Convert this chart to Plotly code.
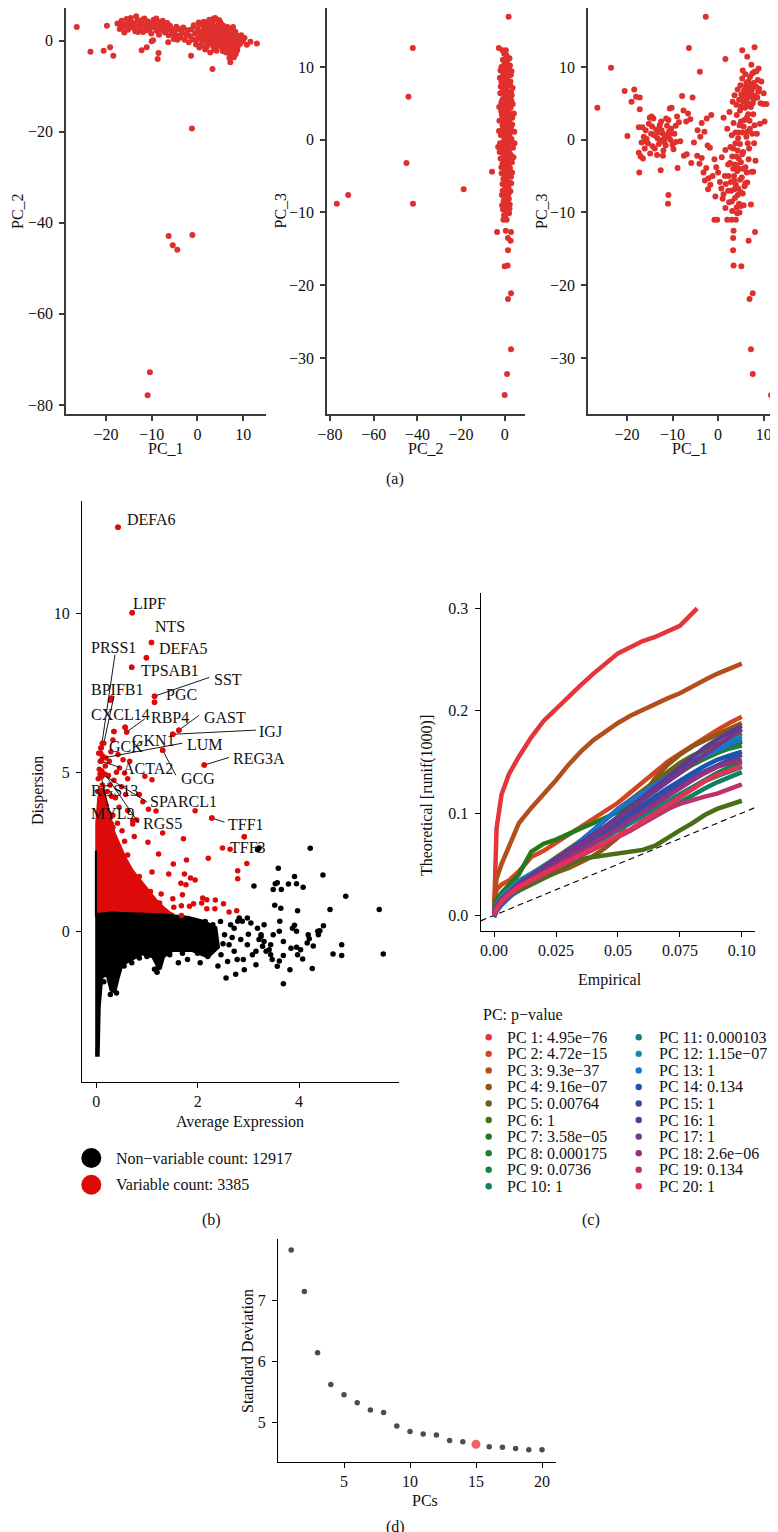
import plotly.graph_objects as go

# ======================= DATA =======================
# (a) PCA embeddings
a1_points = [  # (PC_1, PC_2)
    (-26.4, 3.0), (-23.4, -2.4), (-20.5, -2.2), (-19.1, -1.4), (-18.4, -3.3), (-19.8, 3.3),
    (-12.2, -2.1), (-8.7, -4.0), (-8.5, -2.7), (-11.1, -1.4), (-1.4, -3.3), (3.3, -6.2), (2.8, -2.6),
    (7.2, -4.7), (11.6, -0.2), (13.0, -0.6), (8.7, -2.1), (-10.0, -0.1), (-9.7, 0.1), (-6.4, -0.3),
    (-1.2, -19.3), (-6.3, -42.9), (-5.4, -44.9), (-4.4, -45.9), (-1.1, -42.7), (-10.4, -72.8), (-10.9, -77.9),
    (-17.5, 3.8), (-17.0, 2.6), (-16.6, 4.4), (-16.3, 3.0), (-16.0, 1.8), (-15.8, 3.6), (-15.5, 4.8),
    (-15.2, 2.4), (-14.9, 3.3), (-14.6, 5.0), (-14.4, 4.1), (-14.1, 2.9), (-13.8, 3.7), (-13.6, 2.1),
    (-13.4, 5.4), (-13.1, 4.5), (-12.9, 3.2), (-12.6, 2.6), (-12.4, 4.0), (-12.1, 3.5), (-11.9, 1.9),
    (-11.6, 4.9), (-11.4, 3.0), (-11.1, 2.3), (-10.9, 4.3), (-10.6, 3.6), (-10.4, 2.7), (-10.1, 1.6),
    (-9.9, 3.9), (-9.6, 4.6), (-9.4, 2.9), (-9.1, 3.4), (-8.9, 2.2), (-8.6, 4.2), (-8.4, 1.3),
    (-8.1, 3.1), (-7.9, 2.4), (-7.6, 4.4), (-7.4, 3.6), (-7.1, 1.8), (-6.9, 2.9), (-6.6, 3.9),
    (-6.3, 1.2), (-6.1, 2.5), (-5.8, 2.8), (-5.5, 1.5), (-5.2, 0.4), (-4.9, 2.2), (-4.6, 3.1),
    (-4.3, 1.1), (-4.0, 2.6), (-3.7, 0.7), (-3.4, 1.8), (-3.1, 2.9), (-2.8, 0.2), (-2.5, 1.4),
    (-2.2, 2.3), (-1.9, -0.3), (-1.6, 1.0), (-1.3, 2.5), (-1.0, 0.3), (-0.8, 3.4),
    (-0.5, 1.6), (-0.3, -0.8), (0.0, 2.7), (0.2, 0.6), (0.4, -1.5), (0.6, 3.6), (0.8, 1.2),
    (1.0, -0.4), (1.2, 2.2), (1.4, 4.2), (1.5, 0.1), (1.7, -1.9), (1.9, 1.7), (2.1, 3.1),
    (2.3, -0.9), (2.4, 0.9), (2.6, 4.6), (2.8, 2.4), (3.0, -0.2), (3.1, 1.4), (3.3, 3.6),
    (3.5, -1.3), (3.6, 0.5), (3.8, 2.0), (3.9, 5.0), (4.1, 1.0), (4.2, -2.2), (4.4, 3.0),
    (4.5, 0.0), (4.7, 1.8), (4.8, -0.8), (5.0, 4.0), (5.1, 2.5), (5.3, 0.7), (5.4, -1.6),
    (5.6, 1.5), (5.7, 3.3), (5.9, -0.3), (6.0, 2.1), (6.2, 0.4), (6.3, -2.6), (6.5, 1.2),
    (6.6, 3.0), (6.8, -1.0), (6.9, 0.8), (7.1, 2.3), (7.2, -3.3), (7.4, 0.1), (7.5, 1.6),
    (7.7, -1.8), (7.8, 3.0), (8.0, 0.6), (8.1, -0.6), (8.3, 2.0), (8.4, -2.9), (8.6, 1.1),
    (8.8, -1.3), (9.0, 0.3), (9.3, -0.7), (9.6, 1.2), (9.9, -0.1), (10.3, 0.6), (10.8, -0.9),
    (2.0, 0.2), (2.7, 1.0), (3.4, 0.8), (4.0, -0.5), (4.6, 1.4), (5.2, -0.2), (5.8, 0.9),
    (6.4, -0.4), (7.0, 1.3), (7.6, 0.4), (3.7, 1.5), (4.9, 2.8), (6.1, 1.9), (2.2, 1.8),
    (8.2, 1.4), (6.7, 0.1), (5.5, 0.3), (4.3, 0.4), (3.2, 2.8), (7.3, -0.5), (3.6, 4.9), (4.8, 4.5),
    (0.5, 1.9), (1.1, 0.9), (1.6, 2.8), (2.2, -0.4), (2.9, 3.4), (3.3, -0.6), (3.9, 2.5), (4.3, -1.1),
    (4.6, 3.6), (5.0, 0.5), (5.4, 2.0), (5.7, -0.9), (6.1, 2.8), (6.4, 0.9), (6.8, 1.9), (7.1, -1.4),
    (7.4, 2.6), (7.9, -0.2), (8.3, 0.4), (8.7, -0.4), (9.1, 1.0), (9.4, 0.2), (4.0, 1.7), (4.4, 2.2),
    (5.1, 1.1), (5.9, 1.4), (6.3, -1.2), (6.9, -2.0), (7.8, -1.1), (8.5, 0.0), (3.0, 1.8), (2.5, 2.6),
    (1.8, 0.8), (1.3, 3.3), (0.3, 4.0), (-0.2, 0.3), (0.9, -1.0), (2.0, -1.4), (3.7, -2.0), (5.6, -2.3),
    (6.0, -1.9), (7.5, -2.5), (8.0, -3.6), (7.0, -3.8), (3.4, 4.3), (4.2, 4.7), (5.3, 3.6), (2.0, 4.0),
    (-13.0, 1.9), (-15.0, 4.0), (-12.0, 4.6), (-10.0, 3.1), (-8.0, 3.8), (-7.0, 3.2), (-9.0, 4.9),
    (-11.0, 3.9), (-14.0, 3.5), (-16.8, 3.4), (-5.0, 1.5), (-3.5, 2.4), (-2.0, 1.2), (-6.0, 3.3), (-4.4, 0.2),
]

a2_points = [  # (PC_2, PC_3)
    (-76.9, -8.8), (-71.7, -7.6), (-42.1, 12.6), (-44.1, 5.9), (-45.0, -3.2), (-42.0, -8.8),
    (-18.8, -6.8), (-5.8, -4.4),
    (0.5, 12.3), (-2.7, 12.6), (1.8, 16.9), (-0.8, 11.0), (1.2, 10.8), (2.4, 10.2), (-1.5, 10.0),
    (0.1, 9.7), (3.1, 9.4), (-0.6, 9.1), (1.7, 8.8), (-2.2, 8.5), (0.9, 8.3), (2.6, 8.0),
    (-1.1, 7.7), (0.3, 7.4), (3.6, 7.1), (-0.2, 6.9), (1.5, 6.6), (-2.0, 6.4), (2.2, 6.1),
    (0.6, 5.9), (-0.9, 5.6), (3.0, 5.4), (1.1, 5.1), (-1.6, 4.9), (0.0, 4.6), (2.7, 4.4),
    (-0.5, 4.1), (1.8, 3.9), (4.2, 3.6), (-1.3, 3.4), (0.7, 3.1), (2.3, 2.9), (-2.4, 2.6),
    (-0.1, 2.4), (3.4, 2.1), (1.3, 1.9), (-0.8, 1.6), (2.0, 1.4), (4.4, 1.1), (0.4, 0.9),
    (-1.7, 0.6), (1.6, 0.4), (3.1, 0.1), (-0.3, -0.1), (2.5, -0.4), (0.9, -0.6), (-1.2, -0.9),
    (3.8, -1.1), (0.2, -1.4), (1.9, -1.6), (-0.7, -1.9), (2.8, -2.1), (1.0, -2.4), (-1.9, -2.6),
    (0.5, -2.9), (3.3, -3.1), (-0.4, -3.4), (1.6, -3.6), (2.4, -3.9), (0.1, -4.1), (-1.4, -4.6),
    (1.2, -4.9), (2.9, -5.1), (-0.6, -5.4), (0.8, -5.6), (2.1, -5.9), (-1.0, -6.1), (0.4, -6.4),
    (1.7, -6.6), (-0.2, -6.9), (2.6, -7.1), (0.9, -7.4), (-1.3, -7.6), (0.3, -7.9), (1.9, -8.1),
    (-0.5, -8.4), (1.1, -8.6), (2.3, -8.9), (0.0, -9.1), (1.4, -9.4), (-0.8, -9.6), (0.7, -9.9),
    (2.0, -10.1), (-0.3, -10.4), (0.9, -11.0), (-0.6, -11.0),
    (0.6, 10.4), (-1.9, 9.5), (1.4, 7.9), (-0.4, 7.1), (2.9, 6.6), (0.2, 6.2), (-1.4, 5.2),
    (1.9, 4.7), (0.3, 3.8), (-0.9, 2.9), (1.0, 2.2), (2.8, 1.6), (-0.5, 0.9), (0.8, -0.2),
    (-2.1, -0.5), (1.5, -1.1), (0.4, -2.0), (2.2, -2.8), (-1.0, -3.3), (0.7, -3.8), (1.8, -4.4),
    (-0.1, -5.0), (1.3, -5.8), (-0.9, -7.0), (1.0, -6.9), (0.5, -8.8), (-1.6, 3.9), (3.7, 4.9),
    (-2.6, 1.2), (4.0, -2.4), (-2.3, -1.7), (1.1, 9.1), (-0.1, 8.6), (2.0, 9.8), (0.8, 11.6),
    (-1.0, 12.3), (2.5, 3.3), (-0.7, -0.6), (0.3, 1.4), (1.6, 5.6), (-1.8, 7.3), (3.4, -4.5),
    (-0.2, -7.8),
    (0.0, 0.5), (1.0, 1.0), (-1.0, 2.0), (2.0, 3.0), (0.5, 4.0), (-0.5, 5.0), (1.5, 6.0), (0.0, 7.0),
    (2.5, 7.5), (-1.5, 8.0), (1.0, 9.5), (0.0, 10.5), (2.2, 11.2), (-0.2, 11.8), (1.2, -1.0),
    (-0.8, -1.5), (2.0, -2.0), (0.0, -2.5), (1.5, -3.0), (-1.5, -3.8), (0.8, -4.5), (2.5, -4.8),
    (-0.3, -6.0), (1.8, -7.4), (0.2, -8.2), (1.5, -8.8), (-1.2, -9.0), (0.5, -9.6), (3.0, -6.0),
    (3.5, 3.0), (-2.5, 4.5), (4.5, -0.5), (-3.0, -1.0), (2.8, 8.9), (0.4, 8.0), (-0.9, 4.3),
    (1.2, 3.5), (-0.4, 1.2), (2.3, 0.8), (0.9, 6.8), (3.2, 6.1), (-1.1, 6.6), (1.9, 2.5), (0.6, -0.9),
    (-0.2, -3.0), (2.7, -2.5), (1.1, -6.2), (-0.6, -7.3), (2.2, -9.5), (0.3, -10.8),
    (-3.5, -12.7), (0.5, -12.5), (2.9, -12.7), (1.5, -13.5), (2.7, -13.9), (1.5, -15.2),
    (0.0, -17.4), (1.3, -17.3), (2.9, -21.1), (1.5, -21.9), (2.9, -28.8), (1.1, -32.2), (0.0, -35.1),
]

a3_points = [  # (PC_1, PC_3)
    (-26.5, 4.4), (-23.5, 9.9), (-2.7, 16.9), (-6.4, 12.6), (-4.0, 9.35), (1.6, 11.1), (5.3, 12.3),
    (8.0, 12.7), (12.9, 9.9), (8.1, -12.7), (6.7, -13.9), (3.3, -13.5), (3.4, -12.5), (3.3, -15.2),
    (3.4, -17.3), (5.1, -17.4), (7.6, -21.1), (6.9, -21.9), (7.2, -28.8), (7.6, -32.2), (11.6, -35.1),
    (-10.9, -7.6), (-11.0, -8.8), (-19.9, 0.5), (-20.5, 6.7), (-18.4, 6.9), (-17.3, -4.5),
    (-12.6, -4.2), (-12.1, -2.2), (-8.9, -3.9), (-0.2, -11.0), (2.0, -11.0), (3.9, -11.0),
    (4.7, -10.0), (7.4, -4.4), (9.9, 4.9),
    (-19.0, 5.2), (-18.0, 5.9), (-17.2, 5.8), (-17.2, 4.2), (-17.4, 1.7), (-16.6, 1.7), (-17.4, -1.8),
    (-17.0, -2.3), (-16.5, -2.6), (-16.8, -0.4), (-16.1, -1.2), (-15.7, 0.1), (-15.4, -0.5),
    (-15.0, 3.0), (-14.6, 3.2), (-14.2, 2.9), (-14.9, -1.9), (-14.4, -0.9), (-14.0, 0.6),
    (-13.6, 1.4), (-13.3, 0.2), (-13.0, -0.6), (-12.6, -0.1), (-12.2, 0.9), (-11.9, 0.1),
    (-11.5, -0.8), (-11.1, 0.4), (-10.8, 1.1), (-10.5, 0.0), (-10.2, 4.4), (-10.6, 4.3),
    (-10.0, -0.7), (-9.6, 0.8), (-9.3, 1.9), (-9.0, 3.2), (-8.6, 2.4), (-8.3, -0.2), (-12.8, 2.0),
    (-12.0, -1.5), (-13.9, -1.2), (-15.9, 1.3), (-16.3, 0.4), (-11.2, 1.9), (-9.8, -1.3),
    (-12.4, 1.3), (-14.7, 0.8), (-13.4, -2.1), (-10.9, 2.7), (-10.7, 0.7), (-11.7, 0.6),
    (-7.9, 6.0), (-5.6, 5.8), (-7.6, 4.0), (-7.0, 2.5), (-6.6, 3.6), (-6.1, 2.8), (-5.3, -0.4),
    (-7.5, -2.2), (-6.9, -2.0), (-4.6, -2.2), (-4.1, -3.3), (-3.6, -2.5), (-4.5, 1.3), (-3.6, 2.3),
    (-3.0, 1.1), (-2.5, 2.9), (-3.2, -4.5), (-2.6, -3.9), (-2.1, -5.3), (-1.7, -6.2), (-1.2, -5.0),
    (-2.2, -6.8), (-0.8, -2.7), (-1.5, 3.4), (-0.6, -7.8), (-0.8, -11.0), (-2.3, -0.8), (-5.9, -3.2),
    (-3.9, 0.4), (-1.8, -1.1), (-0.4, -3.8), (-2.9, -5.6),
    (0.0, -4.5), (0.4, -5.8), (0.7, -6.7), (1.2, -7.5), (1.6, -9.4), (1.0, -8.1), (1.7, -6.1),
    (2.3, -5.0), (2.6, -3.2), (2.4, -8.6), (2.9, -7.0), (3.1, -9.8), (3.3, -1.2), (3.5, -5.6),
    (3.7, -8.0), (4.0, -2.3), (4.2, -4.3), (4.4, -6.7), (4.6, -8.8), (4.8, -0.6), (5.0, -3.1),
    (5.2, -5.2), (5.4, -7.4), (5.6, -9.0), (3.0, 0.6), (3.4, 2.3), (3.8, 1.0), (4.1, 3.4),
    (4.4, 0.2), (4.7, 2.0), (5.0, 4.6), (5.3, 1.0), (5.5, -1.7), (5.8, 2.7), (6.0, -3.8),
    (6.2, 0.4), (6.4, -5.9), (6.6, 3.5), (6.8, -1.2), (7.0, 1.5), (7.2, -8.9), (7.6, 5.0),
    (3.2, 5.2), (3.6, 6.1), (4.0, 4.8), (4.3, 6.9), (4.6, 5.5), (4.9, 7.5), (5.1, 6.2), (5.3, 8.4),
    (5.5, 5.3), (5.7, 6.8), (5.9, 4.4), (6.1, 7.3), (6.3, 5.6), (6.5, 6.4), (6.7, 4.7), (6.9, 7.0),
    (7.1, 5.9), (7.3, 6.6), (7.5, 9.1), (7.8, 7.8), (8.1, 6.0), (8.4, 9.4), (8.7, 8.2), (9.0, 7.0),
    (9.5, 8.0), (10.0, 6.4), (10.6, 4.9), (10.2, 2.5), (9.2, 2.2), (8.5, 0.8), (7.9, -0.5),
    (8.2, -2.9), (7.7, -4.4), (7.3, 10.3), (6.4, 11.4), (5.4, 9.5), (8.9, 9.8), (7.0, 8.6),
    (6.0, 9.0), (2.5, 3.8), (2.0, 1.5), (1.2, 3.0), (1.6, -1.4), (0.8, -2.4), (2.7, -1.0),
    (3.6, -3.4), (4.3, -1.5), (6.7, -2.7), (6.3, -4.5), (5.8, -6.4), (5.0, -9.1), (4.2, -10.1),
    (3.0, -11.0), (3.5, -5.0), (4.9, -7.2), (2.2, -3.4), (3.9, -6.2), (6.9, 2.6), (7.7, 3.5),
    (8.0, 2.0), (5.6, 1.8), (6.4, 1.1), (4.5, -2.6), (3.1, -2.3),
    (5.5, 6.0), (6.0, 6.5), (6.5, 5.0), (7.0, 6.2), (7.5, 7.0), (6.2, 7.8), (5.8, 5.5), (6.8, 6.0),
    (7.2, 4.5), (5.2, 5.8), (4.8, 4.0), (6.3, 3.0), (7.8, 5.5), (8.3, 7.3), (6.6, 8.0), (5.0, 2.5),
    (4.5, 1.0), (3.8, -0.5), (4.0, -3.5), (3.3, -4.0), (3.6, -6.8), (4.3, -7.6), (2.8, -5.8),
    (3.0, -8.5), (4.1, -9.3), (2.2, -7.0), (1.5, -5.0), (5.5, -4.0), (6.0, -6.0), (4.8, -5.5),
    (4.6, -4.0), (5.3, -2.0), (6.5, -0.5), (7.5, 0.8), (6.1, 5.1), (7.0, 7.5), (8.6, 5.8), (9.3, 5.0),
    (7.9, 9.3), (8.8, 6.6), (-14.5, 1.8), (-13.2, 1.0), (-11.8, -0.3), (-12.5, 2.5), (-10.3, 1.5),
    (-15.2, 2.2), (-16.0, -0.2), (-9.3, -0.3), (-11.4, 2.9),
]

# (b) variable feature plot
red_region_mean = [0.02, 0.02, 0.06, 0.12, 0.20, 0.27, 0.34, 0.45, 0.56, 0.70, 0.85, 1.00, 1.15, 1.30, 1.45, 1.52, 1.0, 0.5, 0.02]
red_region_disp = [0.5, 3.4, 4.2, 4.5, 4.0, 3.5, 3.1, 2.7, 2.3, 1.9, 1.6, 1.3, 1.0, 0.75, 0.55, 0.5, 0.55, 0.55, 0.5]
black_region_mean = [-0.02, 0.3, 0.8, 1.3, 1.8, 2.1, 2.35, 2.4, 2.2, 1.9, 1.5, 1.32, 1.25, 1.12,
                     0.9, 0.65, 0.5, 0.42, 0.36, 0.30, 0.22, 0.10, 0.05, 0.03, -0.02]
black_region_disp = [0.5, 0.55, 0.52, 0.5, 0.42, 0.3, 0.1, -0.5, -0.8, -0.6, -0.6, -0.8, -1.2, -0.8,
                     -0.7, -0.9, -1.05, -1.5, -1.9, -1.85, -1.35, -1.45, -2.4, -3.9, -3.9]
black_strip_mean = [-0.025, -0.005, -0.005, -0.025]   # thin column of black genes at mean ~ 0
black_strip_disp = [0.5, 0.5, 2.5, 2.5]

var_points = [  # (mean, dispersion) of variable genes
    (0.43, 12.72), (0.71, 10.03), (1.09, 9.09), (0.99, 8.61), (0.70, 8.31), (1.15, 7.40), (1.15, 7.21),
    (0.30, 7.34), (0.28, 7.27), (0.57, 6.42), (0.60, 6.27), (0.35, 6.29), (1.63, 6.33), (1.51, 6.20),
    (0.09, 5.77), (0.12, 5.92), (0.33, 6.02), (0.13, 5.51), (0.08, 5.35), (1.31, 5.70), (2.13, 5.23),
    (0.43, 5.56), (0.53, 5.40), (0.66, 5.35), (0.96, 4.88), (1.10, 4.77), (0.62, 4.80), (0.08, 4.95),
    (0.17, 4.93), (0.46, 5.14), (0.56, 4.98), (0.92, 4.07), (1.03, 3.84), (1.18, 3.78), (1.95, 3.79),
    (2.28, 3.56), (0.72, 3.48), (0.30, 3.37), (2.92, 2.97), (2.49, 2.62), (2.64, 2.58), (2.21, 2.29),
    (2.97, 2.13), (2.79, 1.90), (2.79, 1.65), (2.62, 0.60), (2.77, 0.64), (2.51, 0.86), (2.35, 0.98),
    (2.34, 0.70), (2.18, 0.70), (2.10, 1.04), (2.18, 0.99), (2.08, 0.88), (1.92, 0.86), (1.86, 1.67),
    (1.95, 1.61), (1.78, 2.24), (1.72, 2.91), (1.52, 2.11), (1.43, 1.80), (1.74, 1.80), (1.67, 1.51),
    (1.77, 1.46), (1.70, 1.14), (1.51, 1.02), (1.68, 0.80), (1.53, 0.75), (1.84, 0.78), (1.68, 0.49),
    (1.23, 2.43), (1.31, 3.09), (1.02, 2.80), (1.10, 1.86), (1.28, 1.17), (1.25, 0.88), (0.75, 2.98),
    (0.72, 3.37), (0.51, 3.16), (0.33, 3.27), (0.85, 1.72), (0.89, 1.46), (1.07, 1.25), (0.56, 2.83),
    (0.62, 2.40), (0.22, 4.40), (0.27, 4.60), (0.38, 4.20), (0.15, 4.10), (0.45, 3.90), (0.25, 3.70),
    (0.58, 4.30), (0.50, 4.55), (0.35, 4.75), (0.62, 3.80), (0.80, 3.50), (0.85, 4.30), (0.40, 5.00),
    (0.05, 5.60), (0.18, 5.20), (0.26, 5.35), (0.12, 4.60), (0.20, 3.95), (0.10, 4.30),
    (0.04, 4.80), (0.06, 5.10), (0.03, 4.40), (0.07, 3.90), (0.14, 3.60), (0.24, 4.90), (0.30, 4.25),
    (0.19, 5.45), (0.33, 3.65), (0.42, 3.40), (0.11, 5.05), (0.29, 5.65), (0.16, 3.75), (0.05, 3.65),
]

nonvar_points = [  # (mean, dispersion) of non-variable genes outside the dense core
    (3.18, 2.56), (3.21, 2.62), (4.22, 2.61), (3.59, 1.98), (3.11, 1.42), (3.49, 1.31), (3.57, 1.52),
    (3.65, 1.31), (3.79, 1.48), (3.91, 1.72), (3.95, 1.49), (4.08, 1.38), (4.47, 1.77), (4.92, 1.10),
    (3.52, 0.81), (3.64, 0.72), (3.97, 0.64), (4.61, 0.68), (5.58, 0.68), (3.62, 0.31), (3.91, 0.18),
    (3.95, -0.01), (3.87, 0.09), (4.48, 0.17), (4.37, -0.01), (4.18, -0.12), (4.20, -0.24), (4.16, -0.38),
    (4.28, -0.47), (4.03, -0.59), (3.95, -0.51), (3.97, -0.75), (4.07, -0.88), (4.26, -1.18), (3.82, -1.22),
    (3.69, -1.66), (3.69, -0.77), (3.57, -1.11), (3.61, -0.94), (3.47, -0.90), (3.44, -0.75), (3.41, -0.59),
    (3.35, -0.64), (3.69, -0.33), (3.31, -0.33), (3.25, -0.17), (3.21, -0.27), (3.28, -0.48), (3.15, -0.64),
    (3.08, -0.75), (3.15, -1.06), (2.92, -1.22), (4.84, -0.43), (4.84, -0.77), (4.67, -0.72), (5.66, -0.72),
    (3.05, 0.25), (3.18, 0.09), (3.25, -0.12), (2.98, 0.41), (2.88, 0.31), (2.82, 0.41), (3.31, 0.20),
    (4.38, -0.12), (4.41, 0.01), (3.84, -0.54), (2.56, -1.48), (2.75, -1.36), (2.59, -0.96), (2.53, -0.12),
    (2.72, 0.09), (2.79, 0.31), (2.85, -0.27), (2.98, -0.43), (2.62, -0.43), (2.72, -0.64), (2.46, -0.75),
    (2.28, -0.64), (2.20, -0.80), (3.53, 1.49), (3.61, -0.01), (3.49, -0.12), (3.44, -0.43), (2.65, 0.20),
    (2.45, 0.30), (2.50, -0.40), (2.90, -0.90), (2.35, -0.30), (2.68, -0.20), (3.00, -0.10), (2.78, -0.90),
    (2.40, -1.10), (1.15, -1.20), (1.22, -1.15), (1.62, -1.00), (2.05, -1.00), (1.80, -0.90),
    (0.15, -1.60), (0.28, -2.00), (0.40, -1.95), (0.55, -1.10), (0.70, -1.00), (0.85, -0.85),
    (1.00, -0.80), (1.20, -1.30), (1.45, -0.75), (1.70, -0.70), (2.00, -0.70), (2.30, 0.20), (2.15, 0.30),
]

labeled_genes = ["DEFA6", "LIPF", "NTS", "DEFA5", "TPSAB1", "SST", "PGC", "PRSS1", "BPIFB1", "CXCL14",
                 "RBP4", "GAST", "IGJ", "GKN1", "GCK", "LUM", "REG3A", "ACTA2", "GCG", "RGS13",
                 "SPARCL1", "MYL9", "RGS5", "TFF1", "TFF3"]
labeled_mean = [0.43, 0.71, 1.09, 0.99, 0.70, 1.15, 1.15, 0.10, 0.15, 0.09,
                0.60, 1.63, 1.51, 0.57, 0.35, 0.12, 2.13, 0.10, 1.31, 0.08,
                0.13, 0.10, 0.17, 2.28, 2.92]
labeled_disp = [12.72, 10.03, 9.09, 8.61, 8.31, 7.40, 7.21, 5.77, 5.92, 5.60,
                6.27, 6.33, 6.20, 6.42, 6.29, 5.45, 5.23, 5.35, 5.70, 4.95,
                4.93, 4.85, 4.95, 3.56, 2.97]
nonvar_count = 12917
var_count = 3385

# (c) JackStraw QQ curves
qq_empirical = [0, 0.001, 0.003, 0.006, 0.01, 0.015, 0.02, 0.025, 0.03, 0.035, 0.04, 0.045,
                0.05, 0.055, 0.06, 0.065, 0.07, 0.075, 0.08, 0.085, 0.09, 0.095, 0.1]
qq_pc1_empirical = [0, 0.0005, 0.001, 0.003, 0.006, 0.01, 0.015, 0.02, 0.025, 0.03, 0.035, 0.04,
                    0.045, 0.05, 0.055, 0.06, 0.065, 0.07, 0.075, 0.08, 0.082]
qq_pc1 = [0.004, 0.062, 0.085, 0.118, 0.138, 0.155, 0.174, 0.190, 0.202, 0.214, 0.225, 0.236,
          0.246, 0.256, 0.262, 0.268, 0.272, 0.277, 0.283, 0.295, 0.300]
qq_pc2 = [0.012, 0.025, 0.030, 0.034, 0.043, 0.057, 0.063, 0.071, 0.079, 0.086, 0.094, 0.102, 0.110, 0.120, 0.130, 0.140, 0.150, 0.158, 0.166, 0.174, 0.181, 0.188, 0.194]
qq_pc3 = [0.012, 0.036, 0.050, 0.068, 0.090, 0.105, 0.118, 0.132, 0.147, 0.160, 0.171, 0.180, 0.188, 0.195, 0.201, 0.206, 0.212, 0.217, 0.224, 0.230, 0.236, 0.241, 0.246]
qq_pc4 = [0.000, 0.008, 0.014, 0.020, 0.027, 0.033, 0.037, 0.041, 0.046, 0.052, 0.058, 0.066, 0.076, 0.095, 0.117, 0.134, 0.147, 0.157, 0.165, 0.171, 0.177, 0.183, 0.188]
qq_pc5 = [0.005, 0.012, 0.018, 0.024, 0.032, 0.040, 0.048, 0.056, 0.064, 0.073, 0.083, 0.094, 0.104, 0.113, 0.122, 0.131, 0.140, 0.149, 0.156, 0.162, 0.168, 0.173, 0.178]
qq_pc6 = [0.000, 0.006, 0.012, 0.018, 0.024, 0.030, 0.036, 0.042, 0.050, 0.055, 0.057, 0.059, 0.061, 0.062, 0.064, 0.068, 0.076, 0.083, 0.090, 0.098, 0.104, 0.108, 0.112]
qq_pc7 = [0.008, 0.015, 0.022, 0.030, 0.040, 0.062, 0.070, 0.074, 0.080, 0.085, 0.090, 0.095, 0.101, 0.108, 0.116, 0.124, 0.132, 0.140, 0.147, 0.153, 0.158, 0.164, 0.170]
qq_pc8 = [0.004, 0.010, 0.016, 0.022, 0.030, 0.037, 0.044, 0.052, 0.060, 0.068, 0.077, 0.086, 0.095, 0.104, 0.114, 0.124, 0.133, 0.141, 0.148, 0.154, 0.159, 0.163, 0.166]
qq_pc9 = [0.003, 0.009, 0.015, 0.021, 0.028, 0.035, 0.042, 0.049, 0.056, 0.063, 0.070, 0.077, 0.084, 0.091, 0.098, 0.105, 0.112, 0.119, 0.126, 0.133, 0.139, 0.145, 0.150]
qq_pc10 = [0.002, 0.008, 0.014, 0.020, 0.027, 0.034, 0.040, 0.046, 0.052, 0.058, 0.064, 0.070, 0.076, 0.083, 0.090, 0.097, 0.104, 0.111, 0.118, 0.124, 0.130, 0.135, 0.140]
qq_pc11 = [0.003, 0.010, 0.017, 0.024, 0.031, 0.038, 0.045, 0.051, 0.057, 0.063, 0.069, 0.076, 0.083, 0.090, 0.097, 0.104, 0.111, 0.118, 0.125, 0.131, 0.136, 0.141, 0.145]
qq_pc12 = [0.004, 0.011, 0.019, 0.026, 0.034, 0.041, 0.048, 0.055, 0.062, 0.070, 0.078, 0.087, 0.096, 0.106, 0.115, 0.124, 0.133, 0.142, 0.150, 0.157, 0.164, 0.170, 0.175]
qq_pc13 = [-0.002, 0.004, 0.010, 0.017, 0.027, 0.038, 0.046, 0.054, 0.063, 0.073, 0.083, 0.094, 0.104, 0.112, 0.120, 0.128, 0.136, 0.143, 0.150, 0.156, 0.162, 0.167, 0.172]
qq_pc14 = [-0.001, 0.005, 0.012, 0.019, 0.028, 0.036, 0.043, 0.050, 0.057, 0.065, 0.073, 0.081, 0.090, 0.099, 0.108, 0.116, 0.124, 0.132, 0.139, 0.146, 0.152, 0.156, 0.160]
qq_pc15 = [0.001, 0.007, 0.014, 0.021, 0.029, 0.037, 0.044, 0.051, 0.058, 0.065, 0.073, 0.081, 0.089, 0.097, 0.105, 0.113, 0.121, 0.128, 0.135, 0.141, 0.147, 0.152, 0.157]
qq_pc16 = [0.002, 0.009, 0.016, 0.023, 0.031, 0.039, 0.047, 0.054, 0.062, 0.070, 0.078, 0.087, 0.096, 0.105, 0.115, 0.125, 0.135, 0.145, 0.155, 0.164, 0.172, 0.179, 0.185]
qq_pc17 = [0.002, 0.008, 0.015, 0.022, 0.030, 0.038, 0.045, 0.053, 0.061, 0.069, 0.077, 0.086, 0.095, 0.104, 0.113, 0.122, 0.131, 0.140, 0.149, 0.158, 0.166, 0.174, 0.182]
qq_pc18 = [0.001, 0.007, 0.013, 0.020, 0.028, 0.035, 0.042, 0.049, 0.056, 0.063, 0.070, 0.077, 0.085, 0.093, 0.101, 0.109, 0.117, 0.125, 0.132, 0.139, 0.145, 0.149, 0.152]
qq_pc19 = [0.000, 0.006, 0.013, 0.020, 0.027, 0.034, 0.040, 0.046, 0.052, 0.058, 0.064, 0.070, 0.076, 0.083, 0.090, 0.097, 0.104, 0.109, 0.113, 0.116, 0.119, 0.124, 0.128]
qq_pc20 = [0.000, 0.007, 0.014, 0.021, 0.028, 0.035, 0.041, 0.047, 0.053, 0.059, 0.065, 0.071, 0.077, 0.084, 0.092, 0.100, 0.108, 0.116, 0.124, 0.131, 0.137, 0.142, 0.146]
pc_pvalues = ["4.95e−76", "4.72e−15", "9.3e−37", "9.16e−07", "0.00764", "1", "3.58e−05",
              "0.000175", "0.0736", "1", "0.000103", "1.15e−07", "1", "0.134", "1", "1", "1",
              "2.6e−06", "0.134", "1"]

# (d) Elbow plot
elbow_pc = [1, 2, 3, 4, 5, 6, 7, 8, 9, 10, 11, 12, 13, 14, 15, 16, 17, 18, 19, 20]
elbow_sd = [7.82, 7.14, 6.14, 5.62, 5.45, 5.32, 5.20, 5.16, 4.94, 4.85,
            4.81, 4.79, 4.70, 4.68, 4.64, 4.60, 4.59, 4.57, 4.55, 4.55]
elbow_highlight = 15

# ======================= STYLE / LAYOUT =======================
W, H = 778, 1532
FONT = "Liberation Serif"
TXT = "#111111"
RED_A = "#E0302E"
RED_B = "#DD0A0A"
PC_COLORS = ["#E5343A", "#D1451F", "#B24F1B", "#8E5718", "#6A6315", "#496E16", "#237A1A",
             "#1A8230", "#168448", "#12805F", "#138282", "#1587A8", "#1A73D0", "#1A53B0",
             "#3B4A9B", "#553C92", "#773489", "#96307F", "#BE316E", "#E23355"]


def PX(p):
    return p / W


def PY(p):
    return 1 - p / H


def axis(dom, rng, tickvals, anchor, ticktext=None, color="#000000", lw=1.3):
    d = dict(domain=dom, range=rng, tickvals=tickvals, anchor=anchor, showline=True,
             linecolor=color, linewidth=lw, ticks="outside", ticklen=5, tickwidth=lw,
             tickcolor=color, showgrid=False, zeroline=False, fixedrange=True, automargin=False,
             tickfont=dict(family=FONT, size=16, color=TXT))
    if ticktext is not None:
        d["ticktext"] = ticktext
    return d


fig = go.Figure()


def unzip(pts):
    return [p[0] for p in pts], [p[1] for p in pts]


# (a)
for pts, xa, ya in [(a1_points, "x", "y"), (a2_points, "x2", "y2"), (a3_points, "x3", "y3")]:
    xs, ys = unzip(pts)
    fig.add_trace(go.Scatter(x=xs, y=ys, mode="markers", xaxis=xa, yaxis=ya,
                             marker=dict(size=6, color=RED_A, line=dict(width=0))))

# (b)
fig.add_trace(go.Scatter(x=red_region_mean, y=red_region_disp, mode="lines", fill="toself",
                         fillcolor=RED_B, line=dict(color=RED_B, width=4),
                         xaxis="x4", yaxis="y4"))
fig.add_trace(go.Scatter(x=black_region_mean, y=black_region_disp, mode="lines", fill="toself",
                         fillcolor="#000000", line=dict(color="#000000", width=4),
                         xaxis="x4", yaxis="y4"))
fig.add_trace(go.Scatter(x=black_strip_mean, y=black_strip_disp, mode="lines", fill="toself",
                         fillcolor="#000000", line=dict(color="#000000", width=2),
                         xaxis="x4", yaxis="y4"))
nx, ny = unzip(nonvar_points)
fig.add_trace(go.Scatter(x=nx, y=ny, mode="markers", xaxis="x4", yaxis="y4",
                         marker=dict(size=5.5, color="#000000", line=dict(width=0))))
vx, vy = unzip(var_points)
fig.add_trace(go.Scatter(x=vx, y=vy, mode="markers", xaxis="x4", yaxis="y4",
                         marker=dict(size=5.5, color=RED_B, line=dict(width=0))))

# label placements (layout of the repelled labels; start of leader line if any)
label_layout = {
    "DEFA6": (0.56, 12.96, None), "LIPF": (0.68, 10.33, None), "NTS": (1.11, 9.61, None),
    "DEFA5": (1.20, 8.90, None), "TPSAB1": (0.84, 8.20, None), "SST": (2.28, 7.94, (2.23, 7.99)),
    "PGC": (1.33, 7.45, None), "PRSS1": (-0.15, 8.92, (0.37, 8.71)),
    "BPIFB1": (-0.15, 7.62, (0.35, 7.40)), "CXCL14": (-0.15, 6.82, None),
    "RBP4": (1.04, 6.73, (0.96, 6.69)), "GAST": (2.08, 6.74, (2.03, 6.80)),
    "IGJ": (3.18, 6.29, (3.15, 6.33)), "GKN1": (0.66, 6.01, None), "GCK": (0.22, 5.82, None),
    "LUM": (1.75, 5.89, (1.70, 5.92)), "REG3A": (2.65, 5.43, (2.62, 5.47)),
    "ACTA2": (0.49, 5.12, (0.46, 5.16)), "GCG": (1.63, 4.80, (1.57, 4.91)),
    "RGS13": (-0.15, 4.42, None), "SPARCL1": (1.03, 4.07, (1.00, 4.07)),
    "MYL9": (-0.15, 3.70, (0.23, 3.93)), "RGS5": (0.89, 3.38, (0.84, 3.40)),
    "TFF1": (2.56, 3.37, (2.53, 3.43)), "TFF3": (2.59, 2.64, None),
}
lx, ly = [], []
annotations = []
for g, gx, gy in zip(labeled_genes, labeled_mean, labeled_disp):
    tx, ty, start = label_layout[g]
    if start is not None:
        lx += [start[0], gx, None]
        ly += [start[1], gy, None]
    annotations.append(dict(x=tx, y=ty, xref="x4", yref="y4", text=g, showarrow=False,
                            xanchor="left", yanchor="middle",
                            font=dict(family=FONT, size=16, color=TXT)))
fig.add_trace(go.Scatter(x=lx, y=ly, mode="lines", xaxis="x4", yaxis="y4",
                         line=dict(color="#000000", width=0.9)))
fig.add_trace(go.Scatter(x=labeled_mean, y=labeled_disp, mode="markers", xaxis="x4", yaxis="y4",
                         marker=dict(size=5.5, color=RED_B, line=dict(width=0))))

# (c)
fig.add_trace(go.Scatter(x=[-0.0054, 0.1052], y=[-0.0054, 0.1052], mode="lines",
                         xaxis="x5", yaxis="y5",
                         line=dict(color="#000000", width=1.1, dash="6px,4px")))
qq_series = [qq_pc1, qq_pc2, qq_pc3, qq_pc4, qq_pc5, qq_pc6, qq_pc7, qq_pc8, qq_pc9, qq_pc10,
             qq_pc11, qq_pc12, qq_pc13, qq_pc14, qq_pc15, qq_pc16, qq_pc17, qq_pc18, qq_pc19, qq_pc20]
for i, ys in enumerate(qq_series):
    xs = qq_pc1_empirical if i == 0 else qq_empirical
    fig.add_trace(go.Scatter(x=xs, y=ys, mode="lines", xaxis="x5", yaxis="y5",
                             line=dict(color=PC_COLORS[i], width=4.5, shape="linear")))

# (d)
fig.add_trace(go.Scatter(x=elbow_pc, y=elbow_sd, mode="markers", xaxis="x6", yaxis="y6",
                         marker=dict(size=[9 if p == elbow_highlight else 5.5 for p in elbow_pc],
                                     color=["#E8201C" if p == elbow_highlight else "#000000"
                                            for p in elbow_pc], line=dict(width=0))))

AX_A = "#3a3a3a"
layout = dict(
    width=W, height=H, margin=dict(l=0, r=0, t=0, b=0, autoexpand=False), showlegend=False,
    paper_bgcolor="white", plot_bgcolor="white", template="none",
    font=dict(family=FONT, size=16, color=TXT),
    xaxis=axis([PX(58), PX(258)], [-28.75, 15], [-20, -10, 0, 10], "y", color=AX_A, lw=1.6),
    yaxis=axis([PY(406), 1], [-82, 7.2], [0, -20, -40, -60, -80], "x", color=AX_A, lw=1.6),
    xaxis2=axis([PX(319), PX(517)], [-81.4, 9.3], [-80, -60, -40, -20, 0], "y2", color=AX_A, lw=1.6),
    yaxis2=axis([PY(406), 1], [-37.7, 18.1], [10, 0, -10, -20, -30], "x2", color=AX_A, lw=1.6),
    xaxis3=axis([PX(580), 1], [-28.55, 14.9], [-20, -10, 0, 10], "y3", color=AX_A, lw=1.6),
    yaxis3=axis([PY(406), 1], [-37.7, 18.1], [10, 0, -10, -20, -30], "x3", color=AX_A, lw=1.6),
    xaxis4=axis([PX(74), PX(391)], [-0.28, 5.97], [0, 2, 4], "y4"),
    yaxis4=axis([PY(1073.5), PY(493.3)], [-4.74, 13.54], [0, 5, 10], "x4"),
    xaxis5=axis([PX(472.7), PX(746.7)], [-0.0054, 0.1052], [0, 0.025, 0.05, 0.075, 0.1], "y5",
                ticktext=["0.00", "0.025", "0.05", "0.075", "0.10"]),
    yaxis5=axis([PY(922.7), PY(585)], [-0.015, 0.315], [0, 0.1, 0.2, 0.3], "x5",
                ticktext=["0.0", "0.1", "0.2", "0.3"]),
    xaxis6=axis([PX(270), PX(548)], [0.0, 21.06], [5, 10, 15, 20], "y6"),
    yaxis6=axis([PY(1454), PY(1231)], [4.35, 8.0], [5, 6, 7], "x6"),
)
for k in ["yaxis", "yaxis2", "yaxis3", "yaxis4", "yaxis5", "yaxis6"]:
    layout[k]["ticklabelstandoff"] = 3


def ptext(t, x, y, angle=0, xanchor="center", size=16):
    annotations.append(dict(x=PX(x), y=PY(y), xref="paper", yref="paper", text=t, showarrow=False,
                            xanchor=xanchor, yanchor="middle", textangle=angle,
                            font=dict(family=FONT, size=size, color=TXT)))


for t, x, y, ang in [
    ("PC_1", 158, 440, 0), ("PC_2", 418, 440, 0), ("PC_1", 682, 440, 0),
    ("PC_2", 10, 203, -90), ("PC_3", 272.5, 203, -90), ("PC_3", 534, 203, -90),
    ("(a)", 387, 471, 0),
    ("Dispersion", 30, 783, -90), ("Average Expression", 232, 1114, 0), ("(b)", 203, 1212, 0),
    ("Empirical", 602, 972, 0), ("Theoretical [runif(1000)]", 419, 788, -90), ("(c)", 583, 1212, 0),
    ("Standard Deviation", 239, 1343, -90), ("PCs", 417, 1492, 0), ("(d)", 387, 1519, 0),
]:
    ptext(t, x, y, ang)

shapes = []


def circle(cx, cy, r, color):
    shapes.append(dict(type="circle", xref="paper", yref="paper",
                       x0=PX(cx - r), x1=PX(cx + r), y0=PY(cy + r), y1=PY(cy - r),
                       fillcolor=color, line=dict(width=0)))


# legend (b)
circle(83.3, 1150, 10, "#000000")
circle(83.3, 1176.7, 10, RED_B)
ptext(f"Non−variable count: {nonvar_count}", 106, 1150, xanchor="left")
ptext(f"Variable count: {var_count}", 106, 1176.7, xanchor="left")

# legend (c)
ptext("PC: p−value", 473, 1006.7, xanchor="left")
for i, pv in enumerate(pc_pvalues):
    col, row = divmod(i, 10)
    cx = 480.7 if col == 0 else 630.7
    tx = 497.3 if col == 0 else 649
    cy = 1029.3 + 16.55 * row
    circle(cx, cy, 3.2, PC_COLORS[i])
    ptext(f"PC {i + 1}: {pv}", tx, cy, xanchor="left")

layout["annotations"] = annotations
layout["shapes"] = shapes
fig.update_layout(**layout)
fig.write_html("out.html")
